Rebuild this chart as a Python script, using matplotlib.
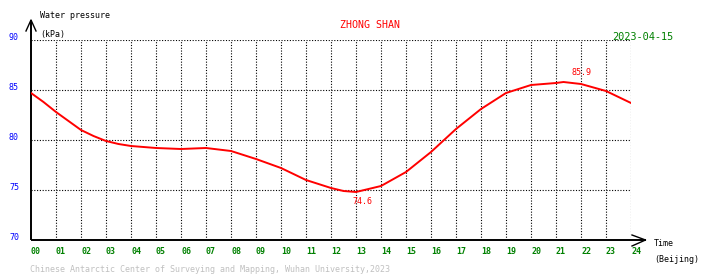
import matplotlib
matplotlib.use("Agg")
import matplotlib.pyplot as plt

# hourly-ish readings (Beijing time, kPa)
hours = [0, 0.5, 1, 1.5, 2, 2.5, 3, 3.5, 4, 5, 6, 7, 8, 8.5, 9, 10, 11, 12,
         12.5, 13, 13.5, 14, 15, 16, 17, 18, 19, 20, 21, 21.3, 22, 23, 24]
pressure = [84.7, 83.8, 82.8, 81.9, 81.0, 80.4, 79.9, 79.6, 79.4, 79.2, 79.1,
            79.2, 78.9, 78.5, 78.1, 77.2, 76.0, 75.2, 74.9, 74.8, 75.1, 75.4,
            76.8, 78.8, 81.1, 83.1, 84.7, 85.5, 85.7, 85.8, 85.6, 84.9, 83.7]
x_labels = ["%02d" % h for h in range(25)]
y_ticks = [70, 75, 80, 85, 90]
min_label = (12.85, 74.6)
max_label = (21.6, 85.9)

station = "ZHONG SHAN"
date = "2023-04-15"
footer = "Chinese Antarctic Center of Surveying and Mapping, Wuhan University,2023"

W, H = 710, 278
mono = "DejaVu Sans Mono"

fig = plt.figure(figsize=(W / 100, H / 100), dpi=100)
ax = fig.add_axes([31 / W, (H - 240) / H, 600 / W, 200 / H])
ax.set_xlim(0, 24)
ax.set_ylim(70, 90)
for s in ax.spines.values():
    s.set_visible(False)
ax.set_xticks([])
ax.set_yticks([])

# dotted grid
for h in range(1, 25):
    ax.plot([h, h], [70, 90], color="black", lw=0.8, ls=(0, (1, 1.5)))
for v in y_ticks[1:]:
    ax.plot([0, 24], [v, v], color="black", lw=0.8, ls=(0, (1, 1.5)))

# axes with arrows
kw = dict(color="black", lw=1.4, clip_on=False, solid_capstyle="butt")
ax.plot([0, 0], [70, 92], **kw)
ax.plot([-0.2, 0, 0.2], [90.9, 92, 90.9], color="black", lw=1, clip_on=False)
ax.plot([0, 24.58], [70, 70], **kw)
ax.plot([24.04, 24.58, 24.04], [70.5, 70, 69.4], color="black", lw=1, clip_on=False)

# data
ax.plot(hours, pressure, color="red", lw=1.4)
ax.text(min_label[0], min_label[1] - 0.3, "%.1f" % min_label[1], color="red",
        family=mono, fontsize=6, ha="left", va="top")
ax.text(max_label[0], max_label[1] + 0.4, "%.1f" % max_label[1], color="red",
        family=mono, fontsize=6, ha="left", va="bottom")

# tick labels
for i, lab in enumerate(x_labels):
    ax.text(i, 68.8, lab, color="green", family=mono, fontsize=6,
            ha="left", va="center", fontweight="bold")
for v in y_ticks:
    ax.text(-0.48, v + 0.2, str(v), color="blue", family=mono, fontsize=6,
            ha="right", va="center")

# labels in pixel coords
def ftext(x, y, s, **k):
    fig.text(x / W, 1 - y / H, s, family=mono, va="center", **k)

ftext(40, 16, "Water pressure", fontsize=6, color="black")
ftext(40, 34, "(kPa)", fontsize=6, color="black")
ftext(654, 244, "Time", fontsize=6, color="black")
ftext(654, 260, "(Beijing)", fontsize=6, color="black")
ftext(370, 25, station, fontsize=7.2, color="red", ha="center")
ftext(612, 37, date, fontsize=7.4, color="green")
ftext(30, 270, footer, fontsize=6, color="#c0c0c0")

fig.savefig("out.png", dpi=100)
